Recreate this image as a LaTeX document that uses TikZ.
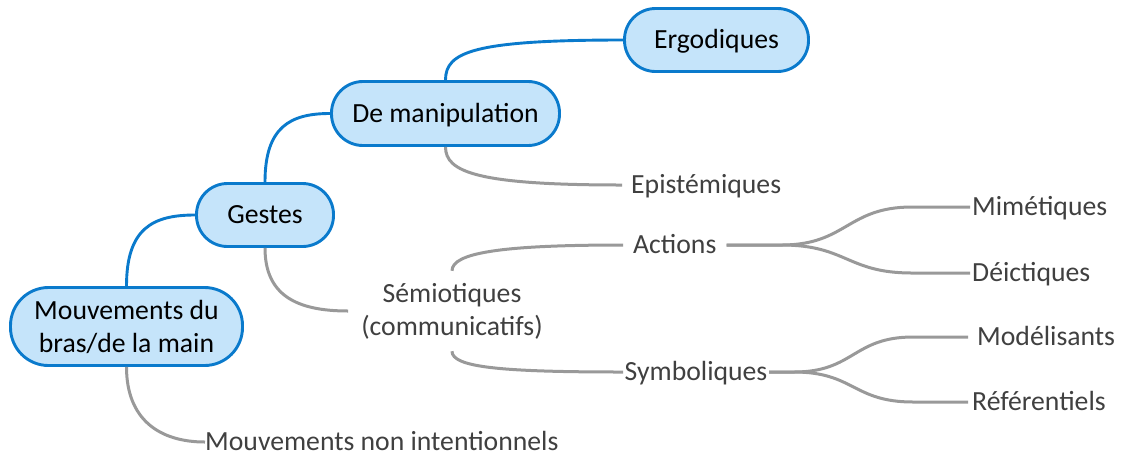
\documentclass[tikz,border=0pt]{standalone}
\usepackage{fontspec}
\setmainfont{Carlito}
\usetikzlibrary{calc}
\definecolor{mapblue}{HTML}{0A7ACC}
\definecolor{mapfill}{HTML}{C5E4FA}
\definecolor{branchgray}{HTML}{999999}
\definecolor{leaftext}{HTML}{404040}
\begin{document}
\begin{tikzpicture}[x=1pt,y=-1pt,
  mapfont/.style={font=\fontsize{27.7}{33}\selectfont},
  topic/.style={mapfont, draw=mapblue, fill=mapfill, line width=2.9pt,
    rectangle, inner sep=0pt, text=black},
  oneline/.style={text height=17.8pt, text depth=0pt},
  leaf/.style={mapfont, text=leaftext, inner ysep=0pt, text height=17.8pt,
    text depth=0pt, anchor=west},
  bluelink/.style={draw=mapblue, line width=2.9pt},
  graylink/.style={draw=branchgray, line width=3pt}]

% canvas
\fill[white] (0,0) rectangle (1123,459);
\useasboundingbox (0,0) rectangle (1123,459);

% main topics
\node[topic, minimum width=232pt, minimum height=78pt, rounded corners=38pt,
  align=center] (mouv) at (126.5,326.5) {Mouvements du\\bras/de la main};
\node[topic, oneline, minimum width=137pt, minimum height=63pt,
  rounded corners=31pt] (gest) at (265,215) {Gestes};
\node[topic, oneline, minimum width=228pt, minimum height=64pt,
  rounded corners=31.5pt] (manip) at (445.5,113.5) {De manipulation};
\node[topic, oneline, minimum width=184pt, minimum height=63pt,
  rounded corners=31pt] (ergo) at (716.5,40) {Ergodiques};

% leaves
\node[mapfont, text=leaftext, align=center, inner xsep=13pt, inner ysep=12pt]
  (sem) at (452,311) {Sémiotiques\\(communicatifs)};
\node[leaf, inner xsep=9pt] (epi) at (622,185) {Epistémiques};
\node[leaf, inner xsep=10pt] (act) at (623,245) {Actions};
\node[leaf, inner xsep=1.5pt] (sym) at (623,372) {Symboliques};
\node[leaf, inner xsep=2pt] (mim) at (970,207) {Mimétiques};
\node[leaf, inner xsep=2pt] (dei) at (970,273) {Déictiques};
\node[leaf, inner xsep=9pt] (mod) at (968,337) {Modélisants};
\node[leaf, inner xsep=4pt] (refe) at (968,402) {Référentiels};
\node[leaf, inner xsep=0pt] (mni) at (205,442) {Mouvements non intentionnels};

% blue branches
\draw[bluelink] (mouv.north) .. controls ($(mouv.north)+(0,-58)$) and ($(gest.west)+(-42,0)$) .. (gest.west);
\draw[bluelink] (gest.north) .. controls ($(gest.north)+(0,-55)$) and ($(manip.west)+(-40,0)$) .. (manip.west);
\draw[bluelink] (manip.north) .. controls ($(manip.north)+(0,-28)$) and ($(ergo.west)+(-150,0)$) .. (ergo.west);

% gray branches
\draw[graylink] (manip.south) .. controls ($(manip.south)+(0,25)$) and ($(epi.west)+(-145,0)$) .. (epi.west);
\draw[graylink] (gest.south) .. controls ($(gest.south)+(0,47)$) and ($(sem.west)+(-52,0)$) .. (sem.west);
\draw[graylink] (mouv.south) .. controls ($(mouv.south)+(0,53)$) and ($(mni.west)+(-45,0)$) .. (mni.west);
\draw[graylink] (sem.north) .. controls ($(sem.north)+(0,-18)$) and ($(act.west)+(-122,0)$) .. (act.west);
\draw[graylink] (sem.south) .. controls ($(sem.south)+(0,16)$) and ($(sym.west)+(-123,0)$) .. (sym.west);

\draw[graylink] (act.east) -- ($(act.east)+(55,0)$)
  .. controls ($(act.east)+(120,0)$) and ($(mim.west)+(-123,0)$) .. ($(mim.west)+(-58,0)$) -- (mim.west);
\draw[graylink] (act.east) -- ($(act.east)+(55,0)$)
  .. controls ($(act.east)+(120,0)$) and ($(dei.west)+(-123,0)$) .. ($(dei.west)+(-58,0)$) -- (dei.west);
\draw[graylink] (sym.east) -- ($(sym.east)+(25,0)$)
  .. controls ($(sym.east)+(85,0)$) and ($(mod.west)+(-115,0)$) .. ($(mod.west)+(-55,0)$) -- (mod.west);
\draw[graylink] (sym.east) -- ($(sym.east)+(25,0)$)
  .. controls ($(sym.east)+(85,0)$) and ($(refe.west)+(-115,0)$) .. ($(refe.west)+(-55,0)$) -- (refe.west);
\end{tikzpicture}
\end{document}
